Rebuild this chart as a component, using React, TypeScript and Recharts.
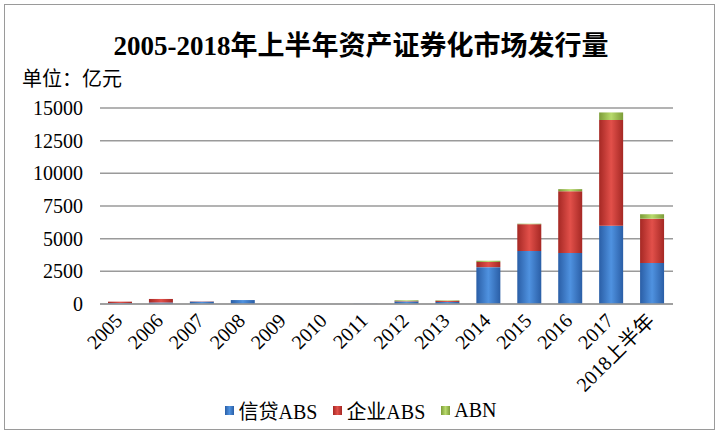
import { BarChart, Bar, XAxis, YAxis, CartesianGrid, Legend } from 'recharts';

const YEARS = ['2005', '2006', '2007', '2008', '2009', '2010', '2011', '2012', '2013', '2014', '2015', '2016', '2017', '2018上半年'];
const CREDIT_ABS = [70, 116, 178, 302, 0, 0, 13, 192, 158, 2820, 4056, 3910, 5980, 3130];
const CORP_ABS = [110, 270, 20, 0, 0, 0, 0, 30, 80, 400, 2050, 4720, 8100, 3400];
const ABN = [0, 0, 0, 0, 0, 0, 0, 60, 40, 90, 40, 160, 580, 340];
const Y_TICKS = [0, 2500, 5000, 7500, 10000, 12500, 15000];

const SERIES = [
  { key: 'credit', name: '信贷ABS', grad: 'gBlue', stops: ['#2a5ea6', '#4f92e0', '#2a5ea6'] },
  { key: 'corp', name: '企业ABS', grad: 'gRed', stops: ['#a52824', '#e2504a', '#a52824'] },
  { key: 'abn', name: 'ABN', grad: 'gGreen', stops: ['#7c9c38', '#b8da6c', '#7c9c38'] },
];

const FONT = '"Liberation Serif", "Noto Sans CJK SC", serif';

const data = YEARS.map((year, i) => ({
  year,
  credit: CREDIT_ABS[i],
  corp: CORP_ABS[i],
  abn: ABN[i],
}));

const XTick = ({ x, y, payload }: any) => (
  <text
    x={x + 3}
    y={y + 10}
    transform={`rotate(-45, ${x + 3}, ${y + 10})`}
    textAnchor="end"
    fontSize={20}
    fontFamily={FONT}
    fill="#000"
  >
    {payload.value}
  </text>
);

const LegendContent = () => (
  <div style={{ display: 'flex', justifyContent: 'center', fontFamily: FONT, fontSize: 20, color: '#000' }}>
    {SERIES.map((s) => (
      <div key={s.key} style={{ display: 'flex', alignItems: 'center', margin: '0 8px' }}>
        <span
          style={{
            display: 'inline-block',
            width: 9,
            height: 9,
            marginRight: 4,
            background: `linear-gradient(90deg, ${s.stops[0]}, ${s.stops[1]}, ${s.stops[2]})`,
          }}
        />
        <span>{s.name}</span>
      </div>
    ))}
  </div>
);

export default function App() {
  return (
    <div style={{ position: 'absolute', left: 0, top: 0, width: 722, height: 434, background: '#fff' }}>
      <div
        style={{
          position: 'absolute',
          left: 4,
          top: 4,
          width: 709,
          height: 424,
          border: '1.5px solid #9a9a9a',
        }}
      />
      <div
        style={{
          position: 'absolute',
          top: 24,
          left: 0,
          width: 722,
          textAlign: 'center',
          fontFamily: FONT,
          fontSize: 27,
          fontWeight: 'bold',
          color: '#000',
        }}
      >
        2005-2018年上半年资产证券化市场发行量
      </div>
      <div style={{ position: 'absolute', top: 63, left: 22, fontFamily: FONT, fontSize: 20, color: '#000' }}>
        单位：亿元
      </div>
      <div style={{ position: 'absolute', left: 0, top: 0 }}>
        <BarChart width={722} height={434} data={data} margin={{ top: 108, right: 49, left: 8, bottom: 0 }}>
          <defs>
            {SERIES.map((s) => (
              <linearGradient key={s.grad} id={s.grad} x1="0" y1="0" x2="1" y2="0">
                <stop offset="0%" stopColor={s.stops[0]} />
                <stop offset="50%" stopColor={s.stops[1]} />
                <stop offset="100%" stopColor={s.stops[2]} />
              </linearGradient>
            ))}
          </defs>
          <CartesianGrid vertical={false} stroke="#9a9a9a" strokeWidth={1.5} />
          <XAxis
            dataKey="year"
            interval={0}
            height={130}
            tickLine={false}
            axisLine={{ stroke: '#9a9a9a', strokeWidth: 1.5 }}
            tick={<XTick />}
          />
          <YAxis
            width={92}
            domain={[0, 15000]}
            ticks={Y_TICKS}
            axisLine={false}
            tickLine={false}
            tickMargin={11}
            tick={{ fontSize: 20, fontFamily: FONT, fill: '#000' }}
          />
          {SERIES.map((s) => (
            <Bar
              key={s.key}
              dataKey={s.key}
              name={s.name}
              stackId="a"
              barSize={24}
              fill={`url(#${s.grad})`}
              isAnimationActive={false}
            />
          ))}
          <Legend
            verticalAlign="middle"
            align="center"
            content={<LegendContent />}
            wrapperStyle={{ top: 396, left: 0, width: 722 }}
          />
        </BarChart>
      </div>
    </div>
  );
}
